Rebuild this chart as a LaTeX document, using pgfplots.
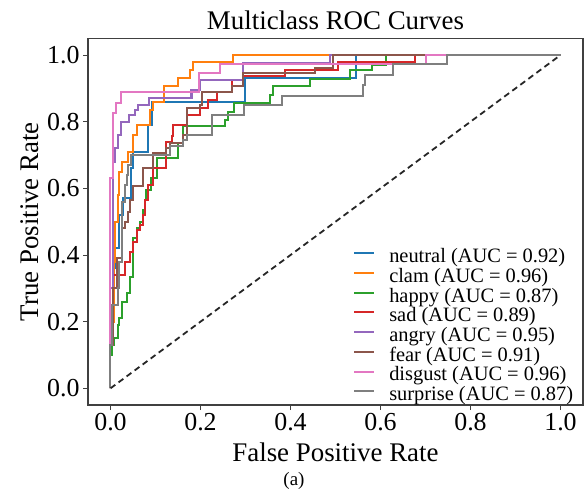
\documentclass[border=0pt]{standalone}
\usepackage{fontspec}
\setmainfont{Liberation Serif}
\usepackage{pgfplots}
\pgfplotsset{compat=1.18}
\definecolor{tabblue}{HTML}{1F77B4}
\definecolor{taborange}{HTML}{FF7F0E}
\definecolor{tabgreen}{HTML}{2CA02C}
\definecolor{tabred}{HTML}{D62728}
\definecolor{tabpurple}{HTML}{9467BD}
\definecolor{tabbrown}{HTML}{8C564B}
\definecolor{tabpink}{HTML}{E377C2}
\definecolor{tabgray}{HTML}{7F7F7F}
\begin{document}
\begin{tikzpicture}
\path[use as bounding box] (-88bp,-88bp) rectangle (500bp,405bp);
\begin{axis}[
  at={(0,0)}, anchor=south west,
  scale only axis, width=495bp, height=366.6bp,
  xmin=-0.05, xmax=1.05, ymin=-0.05, ymax=1.05,
  xtick={0,0.2,0.4,0.6,0.8,1}, ytick={0,0.2,0.4,0.6,0.8,1},
  xtick pos=left, ytick pos=left, tick align=outside,
  major tick length=5bp,
  every tick/.style={black!75, line width=1bp},
  axis line style={black!75, line width=1.2bp},
  /pgf/number format/assume math mode=true,
  xticklabel style={font=\fontsize{26}{26}\selectfont, /pgf/number format/.cd, fixed, fixed zerofill, precision=1},
  yticklabel style={font=\fontsize{26}{26}\selectfont, /pgf/number format/.cd, fixed, fixed zerofill, precision=1},
  title={Multiclass ROC Curves},
  title style={font=\fontsize{27}{27}\selectfont, at={(axis description cs:0.5,1.033)}, anchor=center},
  xlabel={False Positive Rate},
  xlabel style={font=\fontsize{27}{27}\selectfont, at={(axis description cs:0.5,-0.128)}, anchor=center},
  ylabel={True Positive Rate},
  ylabel style={font=\fontsize{27}{27}\selectfont, at={(axis description cs:-0.117,0.5)}, anchor=center},
  legend style={at={(axis cs:0.539,0.42)}, anchor=north west, draw=none, fill=none,
    font=\fontsize{20.5}{20.5}\selectfont, inner sep=0pt, column sep=14bp, row sep=4bp,
    nodes={inner sep=0pt}},
  legend cell align=left,
  legend image code/.code={\draw[#1] (0bp,0.3em) -- (20bp,0.3em);},
]
\addplot[color=tabblue, line width=2bp] coordinates {(0,0)(0,0.25)(0.006,0.25)(0.006,0.36)(0.011,0.36)(0.011,0.42)(0.02,0.42)(0.02,0.52)(0.028,0.52)(0.028,0.57)(0.045,0.57)(0.045,0.66)(0.05,0.66)(0.05,0.71)(0.083,0.71)(0.083,0.79)(0.092,0.79)(0.092,0.86)(0.299,0.86)(0.299,0.93)(0.545,0.93)(0.545,1)(1,1)};
\addlegendentry{neutral (AUC = 0.92)}
\addplot[color=taborange, line width=2bp] coordinates {(0,0)(0,0.13)(0.004,0.13)(0.004,0.2)(0.007,0.2)(0.007,0.38)(0.011,0.38)(0.011,0.5)(0.016,0.5)(0.016,0.58)(0.02,0.58)(0.02,0.65)(0.025,0.65)(0.025,0.68)(0.039,0.68)(0.039,0.71)(0.05,0.71)(0.05,0.76)(0.058,0.76)(0.058,0.79)(0.088,0.79)(0.088,0.835)(0.094,0.835)(0.094,0.86)(0.119,0.86)(0.119,0.907)(0.15,0.907)(0.15,0.93)(0.176,0.93)(0.176,0.955)(0.183,0.955)(0.183,0.98)(0.272,0.98)(0.272,1)(1,1)};
\addlegendentry{clam (AUC = 0.96)}
\addplot[color=tabgreen, line width=2bp] coordinates {(0,0)(0,0.1)(0.004,0.1)(0.004,0.13)(0.008,0.13)(0.008,0.15)(0.016,0.15)(0.016,0.19)(0.02,0.19)(0.02,0.21)(0.025,0.21)(0.025,0.26)(0.036,0.26)(0.036,0.285)(0.043,0.285)(0.043,0.335)(0.05,0.335)(0.05,0.45)(0.058,0.45)(0.058,0.48)(0.065,0.48)(0.065,0.5)(0.072,0.5)(0.072,0.535)(0.076,0.535)(0.076,0.565)(0.08,0.565)(0.08,0.595)(0.09,0.595)(0.09,0.63)(0.103,0.63)(0.103,0.69)(0.15,0.69)(0.15,0.735)(0.161,0.735)(0.161,0.787)(0.254,0.787)(0.254,0.805)(0.26,0.805)(0.26,0.83)(0.274,0.83)(0.274,0.856)(0.354,0.856)(0.354,0.88)(0.36,0.88)(0.36,0.907)(0.443,0.907)(0.443,0.928)(0.532,0.928)(0.532,0.955)(0.58,0.955)(0.58,0.97)(0.612,0.97)(0.612,1)(1,1)};
\addlegendentry{happy (AUC = 0.87)}
\addplot[color=tabred, line width=2bp] coordinates {(0,0)(0,0.13)(0.005,0.13)(0.005,0.34)(0.032,0.34)(0.032,0.38)(0.043,0.38)(0.043,0.41)(0.05,0.41)(0.05,0.44)(0.058,0.44)(0.058,0.475)(0.065,0.475)(0.065,0.49)(0.072,0.49)(0.072,0.52)(0.076,0.52)(0.076,0.565)(0.083,0.565)(0.083,0.61)(0.094,0.61)(0.094,0.66)(0.123,0.66)(0.123,0.74)(0.136,0.74)(0.136,0.757)(0.139,0.757)(0.139,0.79)(0.17,0.79)(0.17,0.82)(0.199,0.82)(0.199,0.84)(0.217,0.84)(0.217,0.865)(0.236,0.865)(0.236,0.89)(0.27,0.89)(0.27,0.925)(0.295,0.925)(0.295,0.937)(0.388,0.937)(0.388,0.955)(0.506,0.955)(0.506,0.98)(0.677,0.98)(0.677,1)(1,1)};
\addlegendentry{sad (AUC = 0.89)}
\addplot[color=tabpurple, line width=2bp] coordinates {(0,0)(0,0.3)(0.005,0.3)(0.005,0.68)(0.01,0.68)(0.01,0.72)(0.016,0.72)(0.016,0.76)(0.023,0.76)(0.023,0.8)(0.041,0.8)(0.041,0.82)(0.054,0.82)(0.054,0.835)(0.061,0.835)(0.061,0.85)(0.086,0.85)(0.086,0.87)(0.18,0.87)(0.18,0.895)(0.199,0.895)(0.199,0.925)(0.295,0.925)(0.295,0.976)(0.488,0.976)(0.488,1)(1,1)};
\addlegendentry{angry (AUC = 0.95)}
\addplot[color=tabbrown, line width=2bp] coordinates {(0,0)(0,0.13)(0.005,0.13)(0.005,0.3)(0.015,0.3)(0.015,0.39)(0.026,0.39)(0.026,0.48)(0.032,0.48)(0.032,0.5)(0.038,0.5)(0.038,0.53)(0.043,0.53)(0.043,0.565)(0.05,0.565)(0.05,0.607)(0.072,0.607)(0.072,0.66)(0.094,0.66)(0.094,0.705)(0.123,0.705)(0.123,0.72)(0.132,0.72)(0.132,0.735)(0.161,0.735)(0.161,0.76)(0.17,0.76)(0.17,0.84)(0.199,0.84)(0.199,0.85)(0.203,0.85)(0.203,0.89)(0.27,0.89)(0.27,0.907)(0.295,0.907)(0.295,0.946)(0.455,0.946)(0.455,0.96)(0.494,0.96)(0.494,1)(1,1)};
\addlegendentry{fear (AUC = 0.91)}
\addplot[color=tabpink, line width=2bp] coordinates {(0,0)(0,0.63)(0.005,0.63)(0.005,0.826)(0.012,0.826)(0.012,0.856)(0.023,0.856)(0.023,0.89)(0.196,0.89)(0.196,0.946)(0.243,0.946)(0.243,0.973)(0.70,0.973)(0.70,1)(1,1)};
\addlegendentry{disgust (AUC = 0.96)}
\addplot[color=tabgray, line width=2bp] coordinates {(0,0)(0,0.13)(0.004,0.13)(0.004,0.25)(0.016,0.25)(0.016,0.30)(0.02,0.30)(0.02,0.38)(0.025,0.38)(0.025,0.56)(0.032,0.56)(0.032,0.61)(0.036,0.61)(0.036,0.64)(0.04,0.64)(0.04,0.67)(0.045,0.67)(0.045,0.70)(0.132,0.70)(0.132,0.727)(0.161,0.727)(0.161,0.745)(0.17,0.745)(0.17,0.76)(0.226,0.76)(0.226,0.82)(0.297,0.82)(0.297,0.85)(0.38,0.85)(0.38,0.877)(0.56,0.877)(0.56,0.91)(0.565,0.91)(0.565,0.94)(0.628,0.94)(0.628,0.973)(0.748,0.973)(0.748,1)(1,1)};
\addlegendentry{surprise (AUC = 0.87)}
\addplot[color=black!85, line width=1.8bp, dash pattern=on 6bp off 4bp, forget plot] coordinates {(0,0)(1,1)};
\end{axis}
\node[font=\fontsize{19}{19}\selectfont] at (206bp,-76bp) {(a)};
\end{tikzpicture}
\end{document}
